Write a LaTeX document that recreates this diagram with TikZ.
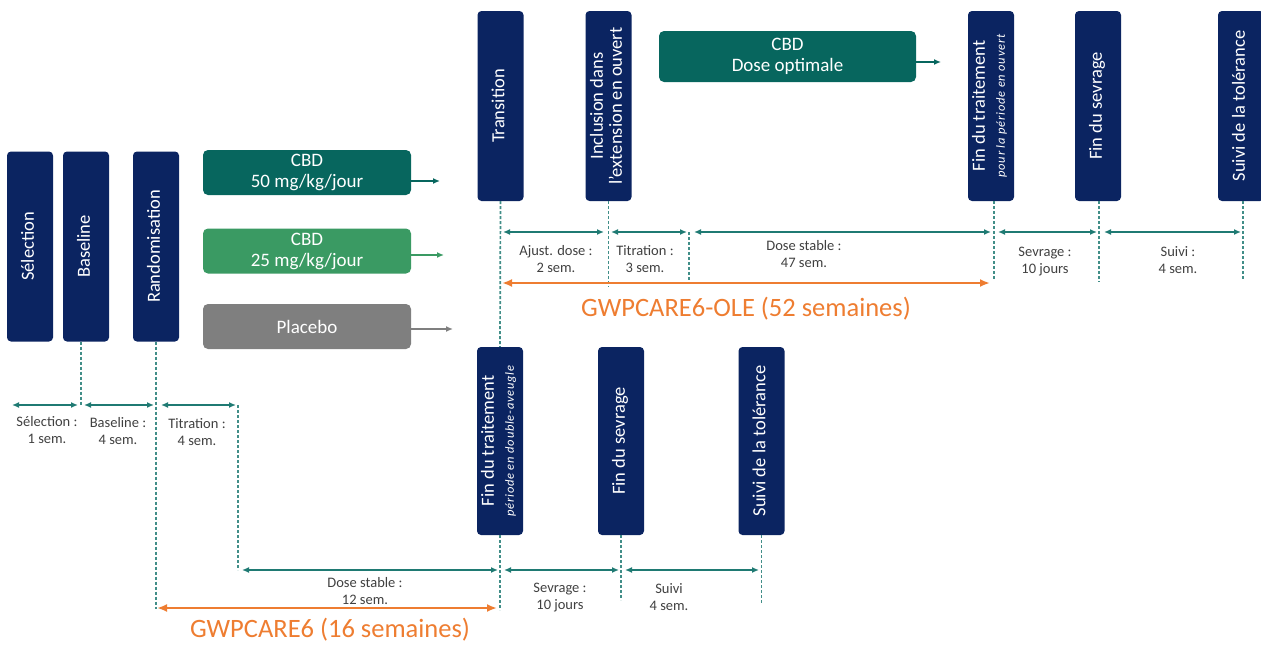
\documentclass[tikz,border=0pt]{standalone}
\usepackage{fontspec}
\setmainfont{Carlito}
\newfontfamily\smallitfont[LetterSpace=6]{Carlito}
\usetikzlibrary{arrows.meta,calc}
\definecolor{navy}{HTML}{0B2461}
\definecolor{tealdark}{HTML}{07665E}
\definecolor{greenmid}{HTML}{3A9A63}
\definecolor{greybox}{HTML}{7F7F7F}
\definecolor{dim}{HTML}{1F7A73}
\definecolor{orng}{HTML}{EE7D31}
\definecolor{lbl}{HTML}{404040}
\newcommand{\subit}[1]{{\smallitfont\itshape\fontsize{12.5}{14}\selectfont #1}}
\newcommand{\vtxt}[1]{\rotatebox{90}{\begin{tabular}{@{}c@{}}#1\end{tabular}}}
\tikzset{
 phase/.style={fill=navy, rounded corners=4pt, minimum width=46pt, minimum height=190pt, inner sep=0pt, text=white, font=\fontsize{18.5}{19}\selectfont},
 arm/.style={rounded corners=5pt, minimum width=208pt, minimum height=45pt, inner sep=0pt, text=white, font=\fontsize{19}{21}\selectfont, align=center},
 guide/.style={draw=dim!85, dash pattern=on 3pt off 2pt, line width=1.7pt},
 span/.style={draw=dim, line width=1.4pt, {Latex[length=7pt,width=6pt]}-{Latex[length=7pt,width=6pt]}},
 total/.style={draw=orng, line width=2.6pt, {Latex[length=10pt,width=8pt]}-{Latex[length=10pt,width=8pt]}},
 lab/.style={text=lbl, font=\fontsize{14.5}{17}\selectfont, align=center, inner sep=0pt},
 big/.style={text=orng, font=\fontsize{26.5}{28}\selectfont, inner sep=0pt},
 outarrow/.style={-{Latex[length=7pt,width=6pt]}, line width=1.3pt}
}
\begin{document}
\begin{tikzpicture}[x=1pt,y=-1pt]
\useasboundingbox (0,0) rectangle (1261,645);

% ---- GWPCARE6 left boxes
\node[phase] (sel) at (30,246.5) {\vtxt{Sélection}};
\node[phase] (bas) at (86,246.5) {\vtxt{Baseline}};
\node[phase] (ran) at (156,246.5) {\vtxt{Randomisation}};

\node[arm, fill=tealdark] (a50) at (307,172.5) {CBD\\50 mg/kg/jour};
\node[arm, fill=greenmid] (a25) at (307,251) {CBD\\25 mg/kg/jour};
\node[arm, fill=greybox] (pla) at (307,326.5) {Placebo};
\coordinate (e50) at (440,181);
\coordinate (e25) at (444,255);
\coordinate (epl) at (453,329);
\draw[outarrow, draw=tealdark, fill=tealdark] (a50.east |- e50) -- (e50);
\draw[outarrow, draw=greenmid, fill=greenmid] (a25.east |- e25) -- (e25);
\draw[outarrow, draw=greybox, fill=greybox] (pla.east |- epl) -- (epl);

% ---- OLE top boxes
\node[phase] (tra) at (500.5,106) {\vtxt{Transition}};
\node[phase] (inc) at (608.5,106) {\vtxt{Inclusion dans\\l'extension en ouvert}};
\node[arm, fill=tealdark, minimum width=257pt, minimum height=51pt] (opt) at (787.5,56.5) {CBD\\Dose optimale};
\coordinate (eopt) at (941,62);
\draw[outarrow, draw=tealdark, fill=tealdark] (opt.east |- eopt) -- (eopt);
\node[phase] (eot) at (991,106) {\vtxt{Fin du traitement\\[1pt]\subit{pour la période en ouvert}}};
\node[phase] (eow) at (1098,106) {\vtxt{Fin du sevrage}};
\node[phase] (fu) at (1241,106) {\vtxt{Suivi de la tolérance}};

% ---- double-blind end boxes
\node[phase, minimum height=188pt] (eotdb) at (500,441) {\vtxt{Fin du traitement\\[1pt]\subit{période en double-aveugle}}};
\node[phase, minimum height=188pt] (eowdb) at (621,441) {\vtxt{Fin du sevrage}};
\node[phase, minimum height=188pt] (fudb) at (761.5,441) {\vtxt{Suivi de la tolérance}};

% ---- guide lines (lower)
\draw[guide] ($(bas.south)+(-5,0)$) -- ($(bas.south)+(-5,64)$);
\draw[guide] (ran.south) -- ($(ran.south)+(0,267)$);
\coordinate (tt1) at (238,405);
\coordinate (tt2) at (238,570);
\draw[guide] (tt1) -- (tt2);
\draw[guide] (tra.south) -- (eotdb.north);
\draw[guide] (eotdb.south) -- ($(eotdb.south)+(0,75)$);
\draw[guide] (eowdb.south) -- ($(eowdb.south)+(0,65)$);
\draw[guide] (fudb.south) -- ($(fudb.south)+(0,68)$);
% ---- guide lines (upper)
\draw[guide] (inc.south) -- ($(inc.south)+(0,86)$);
\coordinate (tu1) at (689,232);
\coordinate (tu2) at (689,282);
\draw[guide] (tu1) -- (tu2);
\draw[guide] ($(eot.south)+(3,0)$) -- ($(eot.south)+(3,79)$);
\draw[guide] ($(eow.south)+(1,0)$) -- ($(eow.south)+(1,81)$);
\draw[guide] ($(fu.south)+(2,0)$) -- ($(fu.south)+(2,79)$);

% ---- spans lower row
\coordinate (l1a) at (12,405);  \coordinate (l1b) at (78,405);
\coordinate (l2a) at (84,405);  \coordinate (l2b) at (154,405);
\coordinate (l3a) at (161,405); \coordinate (l3b) at (236,405);
\coordinate (l4a) at (242,570); \coordinate (l4b) at (498,570);
\coordinate (l5a) at (504,570); \coordinate (l5b) at (619,570);
\coordinate (l6a) at (625,570); \coordinate (l6b) at (759,570);
\draw[span] (l1a) -- (l1b);
\draw[span] (l2a) -- (l2b);
\draw[span] (l3a) -- (l3b);
\draw[span] (l4a) -- (l4b);
\draw[span] (l5a) -- (l5b);
\draw[span] (l6a) -- (l6b);
\node[lab] (t1) at (47,430) {Sélection :\\1 sem.};
\node[lab] (t2) at (118,431) {Baseline :\\4 sem.};
\node[lab] (t3) at (197,432) {Titration :\\4 sem.};
\node[lab] (t4) at (365,591) {Dose stable :\\12 sem.};
\node[lab] (t5) at (560,598) {Sevrage :\\10 jours};
\node[lab] (t6) at (669,597) {Suivi\\4 sem.};

% ---- spans upper row
\coordinate (u1a) at (503,232);  \coordinate (u1b) at (604,232);
\coordinate (u2a) at (611,232);  \coordinate (u2b) at (687,232);
\coordinate (u3a) at (694,232);  \coordinate (u3b) at (991,232);
\coordinate (u4a) at (998,232);  \coordinate (u4b) at (1097,232);
\coordinate (u5a) at (1104,232); \coordinate (u5b) at (1241,232);
\draw[span] (u1a) -- (u1b);
\draw[span] (u2a) -- (u2b);
\draw[span] (u3a) -- (u3b);
\draw[span] (u4a) -- (u4b);
\draw[span] (u5a) -- (u5b);
\node[lab] (v1) at (556,259) {Ajust. dose :\\2 sem.};
\node[lab] (v2) at (645,259) {Titration :\\3 sem.};
\node[lab] (v3) at (804,254) {Dose stable :\\47 sem.};
\node[lab] (v4) at (1045,262) {Sevrage :\\10 jours};
\node[lab] (v5) at (1178,260) {Suivi :\\4 sem.};

% ---- study totals
\coordinate (o1a) at (157,608); \coordinate (o1b) at (497,608);
\draw[total] (o1a) -- (o1b);
\node[big] (g1) at (330,630) {GWPCARE6 (16 semaines)};
\coordinate (o2a) at (502,283); \coordinate (o2b) at (990,283);
\draw[total] (o2a) -- (o2b);
\node[big] (g2) at (746,309) {GWPCARE6-OLE (52 semaines)};
\end{tikzpicture}
\end{document}
